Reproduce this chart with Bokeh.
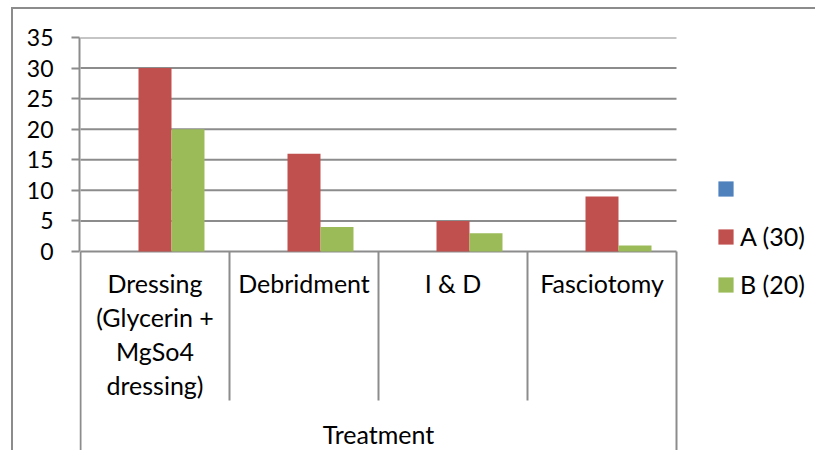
from bokeh.plotting import figure
from bokeh.models import (Range1d, FixedTicker, LinearAxis, Legend, LegendItem,
                          ColumnDataSource)
from bokeh.core.properties import value
from bokeh.embed import file_html
from bokeh.resources import INLINE

# ---- data ----
categories = ["Dressing\n(Glycerin +\nMgSo4\ndressing)", "Debridment", "I & D", "Fasciotomy"]
group_label = "Treatment"
series_names = ["", "A (30)", "B (20)"]
series_blank = [0, 0, 0, 0]
series_a = [30, 16, 5, 9]
series_b = [20, 4, 3, 1]
y_ticks = [0, 5, 10, 15, 20, 25, 30, 35]

# ---- styles / layout ----
colors = ["#4F81BD", "#C0504D", "#9BBB59"]
FONT = "Lato"
GRAY = "#8c8c8c"
W, H = 804, 443
FL, FT = 66, 28
frame_h = H - FT
frame_w = W - FL
px_per_unit = 214 / 35
y_top = 35
y_bottom = y_top - frame_h / px_per_unit
cat_px = 149
x_pad = 1 / cat_px
n = len(categories)
x_end = (frame_w - 1) / cat_px


def px_down(px):
    return -px / px_per_unit


p = figure(width=W, height=H, output_backend="svg", toolbar_location=None,
           x_range=Range1d(-x_pad, x_end), y_range=Range1d(y_bottom, y_top),
           x_axis_type=None, y_axis_type=None,
           min_border_left=FL, min_border_right=0, min_border_top=FT, min_border_bottom=0)
p.outline_line_color = None
p.styles = {"border-top": "2px solid #8c8c8c", "border-left": "2px solid #8c8c8c",
            "margin-left": "11px", "margin-top": "7px"}

# horizontal gridlines over the plot area only
p.segment(x0=[0] * len(y_ticks), y0=y_ticks, x1=[n] * len(y_ticks), y1=y_ticks,
          line_color=GRAY, line_width=2)

yaxis = LinearAxis(ticker=FixedTicker(ticks=y_ticks), bounds=(0, 35),
                   axis_line_color=GRAY, axis_line_width=2,
                   major_tick_line_color=GRAY, major_tick_line_width=2,
                   major_tick_out=8, major_tick_in=0, minor_tick_out=0, minor_tick_in=0,
                   major_label_standoff=18, major_label_text_font=FONT,
                   major_label_text_font_size="23px", major_label_text_color="black")
p.add_layout(yaxis, "left")

bar_w = 33 / cat_px
offsets = [-bar_w, 0, bar_w]
renderers = []
for vals, off, col in zip([series_blank, series_a, series_b], offsets, colors):
    src = ColumnDataSource(dict(x=[i + 0.5 + off for i in range(n)], top=vals))
    r = p.vbar(x="x", top="top", bottom=0, width=bar_w, source=src,
               fill_color=col, line_color=None)
    renderers.append(r)

inner = list(range(1, n))
p.segment(x0=inner, y0=[0] * len(inner), x1=inner, y1=[px_down(149)] * len(inner),
          line_color=GRAY, line_width=2)
p.segment(x0=[0, n], y0=[0, 0], x1=[0, n], y1=[y_bottom, y_bottom],
          line_color=GRAY, line_width=2)

p.text(x=[i + 0.5 for i in range(n)], y=[px_down(16.5)] * n, text=categories,
       text_font=value(FONT), text_font_size="25px", text_align="center",
       text_baseline="top", text_line_height=1.13, text_color="black")
p.text(x=[n / 2], y=[px_down(182)], text=[group_label],
       text_font=value(FONT), text_font_size="25px", text_align="center",
       text_baseline="middle", text_color="black")

items = [LegendItem(label=value(name), renderers=[r]) for name, r in zip(series_names, renderers)]
legend = Legend(items=items, location=(637, 153), orientation="vertical",
                glyph_width=19, glyph_height=19, label_standoff=5, label_height=30,
                spacing=18, padding=0, margin=0, border_line_color=None,
                background_fill_alpha=0, label_text_font=FONT,
                label_text_font_size="25px", label_text_color="black",
                label_text_baseline="middle")
p.add_layout(legend, "center")

open("out.html", "w").write(file_html(p, INLINE))
